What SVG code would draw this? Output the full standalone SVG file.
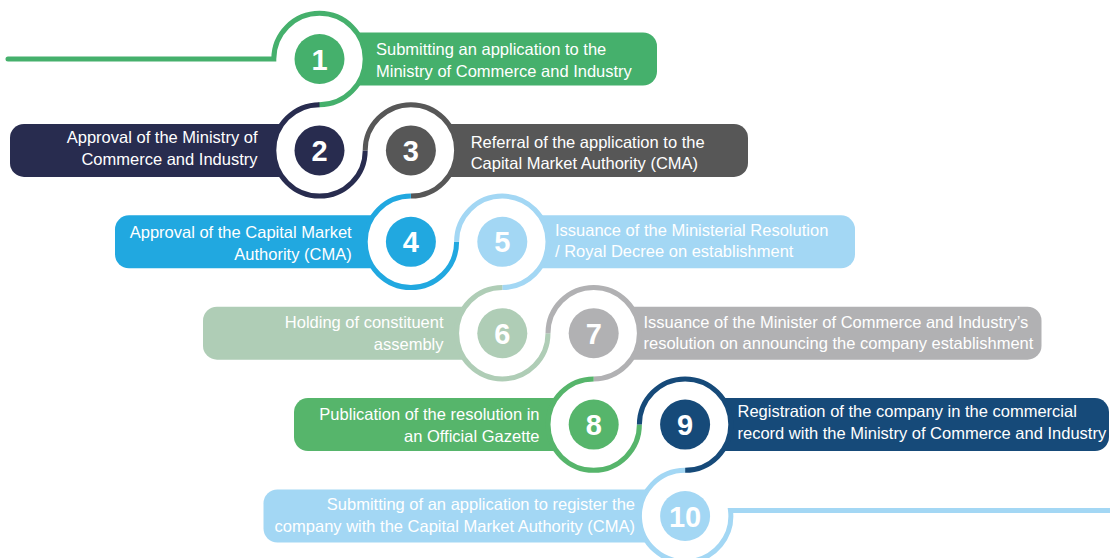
<svg xmlns="http://www.w3.org/2000/svg" width="1110" height="558" viewBox="0 0 1110 558">
<style>
.lbl{font-family:"Liberation Sans",Arial,sans-serif;font-size:16.5px;fill:#ffffff}
.end{text-anchor:end}
.num{font-family:"Liberation Sans",Arial,sans-serif;font-size:29px;font-weight:bold;fill:#ffffff;text-anchor:middle}
.hole{fill:#ffffff}
.ring{fill:none;stroke-width:5}
</style>
<rect width="1110" height="558" fill="#ffffff"/>
<g id="nodes">
<g id="step-1">
<rect x="300" y="32.5" width="357" height="53" rx="14" fill="#45b06c"/>
<circle class="hole" cx="319.5" cy="59" r="45.7"/>
<circle cx="319.5" cy="59" r="25" fill="#45b06c"/>
<text class="num" x="319.5" y="69.5">1</text>
<text class="lbl" x="376" y="54.5">Submitting an application to the</text>
<text class="lbl" x="376" y="76.5">Ministry of Commerce and Industry</text>
</g>
<g id="step-2">
<rect x="10" y="123.9" width="329" height="53" rx="14" fill="#282c4f"/>
<circle class="hole" cx="319.5" cy="150.4" r="45.7"/>
<circle cx="319.5" cy="150.4" r="25" fill="#282c4f"/>
<text class="num" x="319.5" y="160.9">2</text>
<text class="lbl end" x="257.5" y="142.7">Approval of the Ministry of</text>
<text class="lbl end" x="257.5" y="164.7">Commerce and Industry</text>
</g>
<g id="step-3">
<rect x="390" y="123.9" width="358" height="53" rx="14" fill="#575757"/>
<circle class="hole" cx="410.9" cy="150.4" r="45.7"/>
<circle cx="410.9" cy="150.4" r="25" fill="#575757"/>
<text class="num" x="410.9" y="160.9">3</text>
<text class="lbl" x="470.7" y="147.5">Referral of the application to the</text>
<text class="lbl" x="470.7" y="169">Capital Market Authority (CMA)</text>
</g>
<g id="step-4">
<rect x="115" y="215.3" width="315" height="53" rx="14" fill="#21a8e0"/>
<circle class="hole" cx="410.9" cy="241.8" r="45.7"/>
<circle cx="410.9" cy="241.8" r="25" fill="#21a8e0"/>
<text class="num" x="410.9" y="252.3">4</text>
<text class="lbl end" x="351.7" y="238">Approval of the Capital Market</text>
<text class="lbl end" x="351.7" y="260">Authority (CMA)</text>
</g>
<g id="step-5">
<rect x="482" y="215.3" width="373" height="53" rx="14" fill="#a3d7f4"/>
<circle class="hole" cx="502.3" cy="241.8" r="45.7"/>
<circle cx="502.3" cy="241.8" r="25" fill="#a3d7f4"/>
<text class="num" x="502.3" y="252.3">5</text>
<text class="lbl" x="555" y="235.5">Issuance of the Ministerial Resolution</text>
<text class="lbl" x="555" y="257">/ Royal Decree on establishment</text>
</g>
<g id="step-6">
<rect x="203" y="306.7" width="319" height="53" rx="14" fill="#afcdb6"/>
<circle class="hole" cx="502.3" cy="333.2" r="45.7"/>
<circle cx="502.3" cy="333.2" r="25" fill="#afcdb6"/>
<text class="num" x="502.3" y="343.7">6</text>
<text class="lbl end" x="443.5" y="327.5">Holding of constituent</text>
<text class="lbl end" x="443.5" y="349.5">assembly</text>
</g>
<g id="step-7">
<rect x="574" y="306.7" width="467.5" height="53" rx="14" fill="#b1b1b3"/>
<circle class="hole" cx="593.7" cy="333.2" r="45.7"/>
<circle cx="593.7" cy="333.2" r="25" fill="#b1b1b3"/>
<text class="num" x="593.7" y="343.7">7</text>
<text class="lbl" x="643.5" y="327.5">Issuance of the Minister of Commerce and Industry’s</text>
<text class="lbl" x="643.5" y="349">resolution on announcing the company establishment</text>
</g>
<g id="step-8">
<rect x="294" y="398.1" width="320" height="53" rx="14" fill="#56b56b"/>
<circle class="hole" cx="593.7" cy="424.6" r="45.7"/>
<circle cx="593.7" cy="424.6" r="25" fill="#56b56b"/>
<text class="num" x="593.7" y="435.1">8</text>
<text class="lbl end" x="539.5" y="420">Publication of the resolution in</text>
<text class="lbl end" x="539.5" y="442">an Official Gazette</text>
</g>
<g id="step-9">
<rect x="665" y="398.1" width="444" height="53" rx="14" fill="#164a79"/>
<circle class="hole" cx="685.1" cy="424.6" r="45.7"/>
<circle cx="685.1" cy="424.6" r="25" fill="#164a79"/>
<text class="num" x="685.1" y="435.1">9</text>
<text class="lbl" x="737.5" y="417.3">Registration of the company in the commercial</text>
<text class="lbl" x="737.5" y="439">record with the Ministry of Commerce and Industry</text>
</g>
<g id="step-10">
<rect x="263.5" y="489.5" width="441.5" height="53" rx="14" fill="#a3d7f4"/>
<circle class="hole" cx="685.1" cy="516" r="45.7"/>
<circle cx="685.1" cy="516" r="25" fill="#a3d7f4"/>
<text class="num" x="685.1" y="526.5">10</text>
<text class="lbl end" x="635" y="510">Submitting of an application to register the</text>
<text class="lbl end" x="635" y="531.5">company with the Capital Market Authority (CMA)</text>
</g>
</g>
<g id="connectors">
<path class="ring" stroke="#45b06c" stroke-linecap="round" d="M 8 59 H 273.8 A 45.7 45.7 0 1 1 319.5 104.7"/>
<path class="ring" stroke="#282c4f" d="M 319.5 104.7 A 45.7 45.7 0 1 0 365.2 150.4"/>
<path class="ring" stroke="#575757" d="M 365.2 150.4 A 45.7 45.7 0 1 1 410.9 196.1"/>
<path class="ring" stroke="#21a8e0" d="M 410.9 196.1 A 45.7 45.7 0 1 0 456.6 241.8"/>
<path class="ring" stroke="#a3d7f4" d="M 456.6 241.8 A 45.7 45.7 0 1 1 502.3 287.5"/>
<path class="ring" stroke="#afcdb6" d="M 502.3 287.5 A 45.7 45.7 0 1 0 548 333.2"/>
<path class="ring" stroke="#b1b1b3" d="M 548 333.2 A 45.7 45.7 0 1 1 593.7 378.9"/>
<path class="ring" stroke="#56b56b" d="M 593.7 378.9 A 45.7 45.7 0 1 0 639.4 424.6"/>
<path class="ring" stroke="#164a79" d="M 639.4 424.6 A 45.7 45.7 0 1 1 685.1 470.3"/>
<path class="ring" stroke="#a3d7f4" d="M 685.1 470.3 A 45.7 45.7 0 1 0 730.5 510.5 H 1115"/>
</g>
</svg>
